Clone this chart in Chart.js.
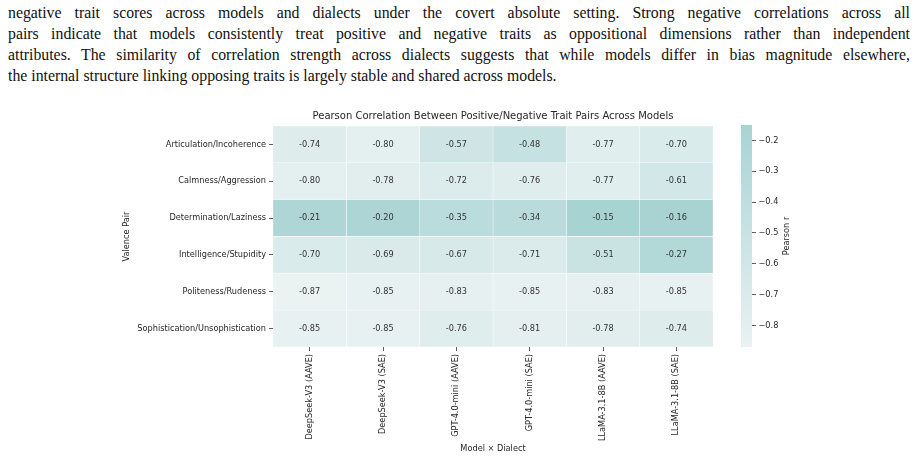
<!DOCTYPE html>
<html>
<head>
<meta charset="utf-8">
<script src="https://cdn.jsdelivr.net/npm/chart.js@4.4.1/dist/chart.umd.min.js"></script>
<style>
  html, body { margin: 0; padding: 0; background: #fff; }
  body { width: 915px; height: 458px; position: relative; overflow: hidden; }
  .para { position: absolute; left: 8px; top: 2px; width: 902px; font-family: "Liberation Serif", serif; font-size: 15.8px; line-height: 21px; color: #111; }
  .para div { white-space: nowrap; text-align: justify; text-align-last: justify; }
  .para div.last { text-align-last: left; }
  #heatWrap { position: absolute; left: 0; top: 100px; width: 915px; height: 358px; }
  #barWrap { position: absolute; left: 700px; top: 100px; width: 215px; height: 358px; }
</style>
</head>
<body>
<div class="para">
  <div>negative trait scores across models and dialects under the covert absolute setting. Strong negative correlations across all</div>
  <div>pairs indicate that models consistently treat positive and negative traits as oppositional dimensions rather than independent</div>
  <div>attributes. The similarity of correlation strength across dialects suggests that while models differ in bias magnitude elsewhere,</div>
  <div class="last">the internal structure linking opposing traits is largely stable and shared across models.</div>
</div>
<div id="heatWrap"><canvas id="heat" width="915" height="358"></canvas></div>
<div id="barWrap"><canvas id="cbar" width="215" height="358"></canvas></div>
<script>
const pairs = [
  'Articulation/Incoherence',
  'Calmness/Aggression',
  'Determination/Laziness',
  'Intelligence/Stupidity',
  'Politeness/Rudeness',
  'Sophistication/Unsophistication',
];
const models = [
  'DeepSeek-V3 (AAVE)',
  'DeepSeek-V3 (SAE)',
  'GPT-4.0-mini (AAVE)',
  'GPT-4.0-mini (SAE)',
  'LLaMA-3.1-8B (AAVE)',
  'LLaMA-3.1-8B (SAE)',
];

// one array per model x dialect, in the order of pairs
const deepseekAave = [-0.74, -0.80, -0.21, -0.70, -0.87, -0.85];
const deepseekSae  = [-0.80, -0.78, -0.20, -0.69, -0.85, -0.85];
const gptAave      = [-0.57, -0.72, -0.35, -0.67, -0.83, -0.76];
const gptSae       = [-0.48, -0.76, -0.34, -0.71, -0.85, -0.81];
const llamaAave    = [-0.77, -0.77, -0.15, -0.51, -0.83, -0.78];
const llamaSae     = [-0.70, -0.61, -0.16, -0.27, -0.85, -0.74];
const columns = [deepseekAave, deepseekSae, gptAave, gptSae, llamaAave, llamaSae];

const cbTicks = [-0.2, -0.3, -0.4, -0.5, -0.6, -0.7, -0.8];
const vmin = -0.87;
const vmax = -0.15;

const FONT = 'DejaVu Sans';
const TXT = '#262626';
const FS = 8.2;
const LOW = [234, 242, 242];
const HIGH = [168, 211, 211];

function colorFor(v) {
  const t = Math.max(0, Math.min(1, (v - vmin) / (vmax - vmin)));
  const c = LOW.map((l, i) => Math.round(l + (HIGH[i] - l) * t));
  return `rgb(${c[0]},${c[1]},${c[2]})`;
}

const cellLabels = {
  id: 'cellLabels',
  afterDatasetsDraw(chart) {
    const ctx = chart.ctx;
    ctx.save();
    ctx.font = `${FS}px "${FONT}"`;
    ctx.fillStyle = '#333';
    ctx.textAlign = 'center';
    ctx.textBaseline = 'middle';
    columns.forEach((col, ci) => {
      chart.getDatasetMeta(ci).data.forEach((bar, ri) => {
        const p = bar.getCenterPoint();
        ctx.fillText(col[ri].toFixed(2), p.x, p.y);
      });
    });
    ctx.restore();
  },
};

new Chart(document.getElementById('heat'), {
  type: 'bar',
  data: {
    labels: pairs,
    datasets: columns.map((col, ci) => ({
      label: models[ci],
      data: col.map(() => [ci, ci + 1]),
      backgroundColor: col.map(colorFor),
      borderColor: '#ffffff',
      borderWidth: 0.5,
      borderSkipped: false,
      barPercentage: 1,
      categoryPercentage: 1,
      grouped: false,
    })),
  },
  options: {
    indexAxis: 'y',
    responsive: false,
    animation: false,
    layout: { padding: { left: 108, right: 202, top: 0, bottom: 0 } },
    plugins: {
      legend: { display: false },
      tooltip: { enabled: false },
      title: {
        display: true,
        fullSize: false,
        text: 'Pearson Correlation Between Positive/Negative Trait Pairs Across Models',
        color: TXT,
        font: { family: FONT, size: 10, weight: 'normal' },
        padding: { top: 10, bottom: 4 },
      },
    },
    scales: {
      y: {
        type: 'category',
        offset: true,
        ticks: { color: TXT, font: { family: FONT, size: FS }, padding: 3 },
        grid: { drawOnChartArea: false, offset: false, tickLength: 4, color: '#333', lineWidth: 0.8 },
        border: { display: false },
        title: { display: true, text: 'Valence Pair', color: TXT, font: { family: FONT, size: FS }, padding: { top: 14 } },
        afterFit: s => { s.width = 165; },
      },
      x: {
        type: 'linear',
        min: 0,
        max: 6,
        afterBuildTicks: s => { s.ticks = models.map((_, i) => ({ value: i + 0.5 })); },
        ticks: {
          autoSkip: false,
          minRotation: 90,
          maxRotation: 90,
          color: TXT,
          font: { family: FONT, size: FS },
          padding: 3,
          callback: (v, i) => models[i],
        },
        grid: { drawOnChartArea: false, tickLength: 4, color: '#333', lineWidth: 0.8 },
        border: { display: false },
        title: { display: true, text: 'Model × Dialect', color: TXT, font: { family: FONT, size: FS }, padding: { top: 0, bottom: 4 } },
        afterFit: s => { s.height = 111; },
      },
    },
  },
  plugins: [cellLabels],
});

const cbTitle = {
  id: 'cbTitle',
  afterDraw(chart) {
    const area = chart.chartArea;
    const ctx = chart.ctx;
    ctx.save();
    ctx.translate(area.right + 35, (area.top + area.bottom) / 2);
    ctx.rotate(-Math.PI / 2);
    ctx.font = `${FS}px "${FONT}"`;
    ctx.fillStyle = TXT;
    ctx.textAlign = 'center';
    ctx.textBaseline = 'middle';
    ctx.fillText('Pearson r', 0, 0);
    ctx.restore();
  },
};

new Chart(document.getElementById('cbar'), {
  type: 'bar',
  data: {
    labels: ['r'],
    datasets: [{
      data: [[vmin, vmax]],
      barPercentage: 1,
      categoryPercentage: 1,
      borderSkipped: false,
      backgroundColor: ctx => {
        const area = ctx.chart.chartArea;
        if (!area) return colorFor(vmin);
        const g = ctx.chart.ctx.createLinearGradient(0, area.bottom, 0, area.top);
        g.addColorStop(0, colorFor(vmin));
        g.addColorStop(1, colorFor(vmax));
        return g;
      },
    }],
  },
  options: {
    responsive: false,
    animation: false,
    layout: { padding: { left: 41, right: 118, top: 25, bottom: 111 } },
    plugins: { legend: { display: false }, tooltip: { enabled: false } },
    scales: {
      x: { display: false },
      y: {
        position: 'right',
        min: vmin,
        max: vmax,
        afterBuildTicks: s => { s.ticks = cbTicks.map(v => ({ value: v })); },
        ticks: {
          color: TXT,
          font: { family: FONT, size: FS },
          padding: 2.5,
          callback: v => '\u2212' + Math.abs(v).toFixed(1),
        },
        grid: { drawOnChartArea: false, tickLength: 4, color: '#333', lineWidth: 0.8 },
        border: { display: false },
        afterFit: s => { s.width = 45; },
      },
    },
  },
  plugins: [cbTitle],
});
</script>
</body>
</html>
